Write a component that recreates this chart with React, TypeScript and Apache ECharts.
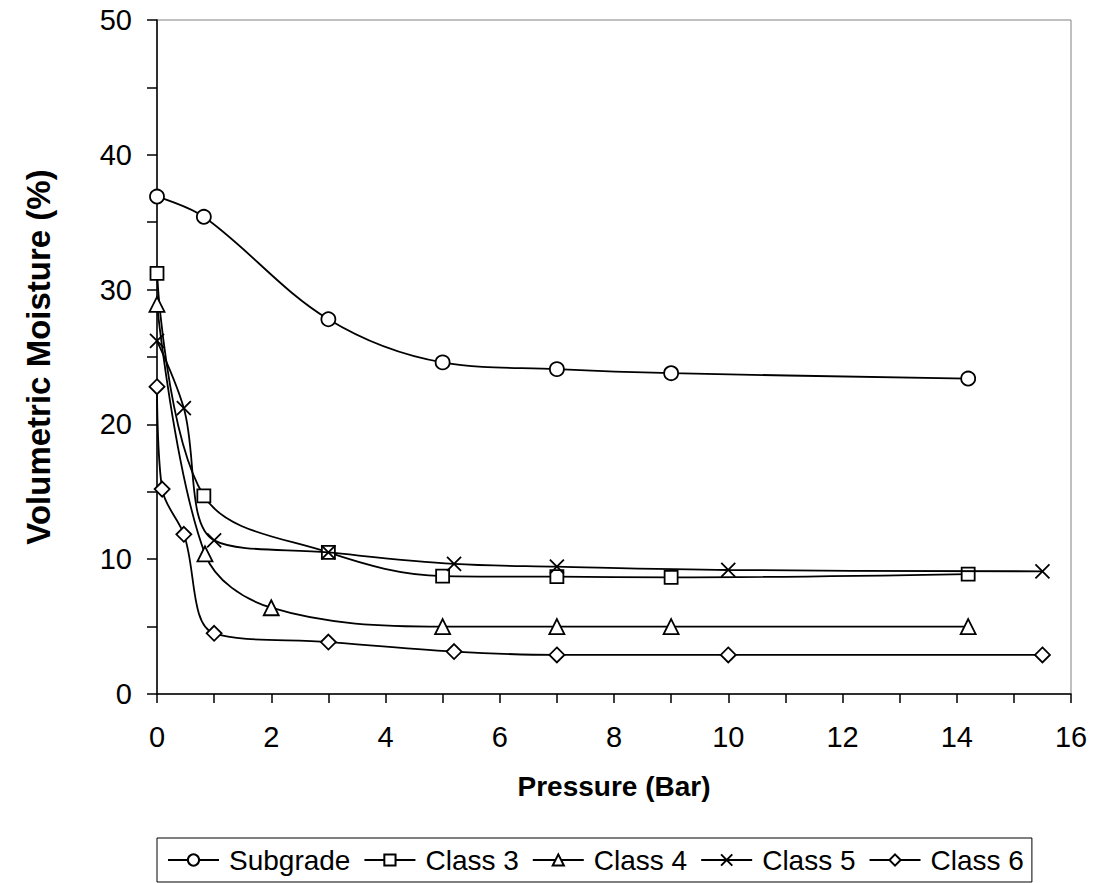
import React, { useEffect, useRef } from "react";
import * as echarts from "echarts";

const seriesNames = ["Subgrade", "Class 3", "Class 4", "Class 5", "Class 6"];

const subgradeX = [0, 0.82, 3, 5, 7, 9, 14.2];
const subgradeY = [36.9, 35.4, 27.8, 24.6, 24.1, 23.8, 23.4];

const class3X = [0, 0.82, 3, 5, 7, 9, 14.2];
const class3Y = [31.2, 14.7, 10.5, 8.75, 8.7, 8.65, 8.9];

const class4X = [0, 0.84, 2, 5, 7, 9, 14.2];
const class4Y = [28.9, 10.4, 6.4, 5.0, 5.0, 5.0, 5.0];

const class5X = [0, 0.47, 1, 3, 5.2, 7, 10, 15.5];
const class5Y = [26.2, 21.2, 11.4, 10.5, 9.65, 9.45, 9.2, 9.1];

const class6X = [0, 0.09, 0.47, 1, 3, 5.2, 7, 10, 15.5];
const class6Y = [22.8, 15.2, 11.85, 4.5, 3.85, 3.15, 2.9, 2.9, 2.9];

const xMin = 0, xMax = 16, xStep = 1, xLabelEvery = 2;
const yMin = 0, yMax = 50, yStep = 5, yLabelEvery = 10;

const FONT = "'Liberation Sans', Arial, sans-serif";

const zip = (xs: number[], ys: number[]) => xs.map((x, i) => [x, ys[i]]);

const symbols = [
  "circle",
  "rect",
  "triangle",
  "path://M0 0L10 10M10 0L0 10",
  "diamond",
];
const symbolSizes = [14, 13, 15, 14, 15];

export default function App() {
  const ref = useRef<HTMLDivElement>(null);
  useEffect(() => {
    if (!ref.current) return;
    const chart = echarts.init(ref.current, null, { renderer: "svg" });
    const allData = [
      zip(subgradeX, subgradeY),
      zip(class3X, class3Y),
      zip(class4X, class4Y),
      zip(class5X, class5Y),
      zip(class6X, class6Y),
    ];
    chart.setOption({
      animation: false,
      backgroundColor: "#ffffff",
      textStyle: { fontFamily: FONT, color: "#000" },
      grid: {
        left: 157,
        right: 23,
        top: 20,
        bottom: 189,
        show: true,
        borderColor: "#808080",
        borderWidth: 1,
        backgroundColor: "transparent",
      },
      xAxis: {
        type: "value",
        min: xMin,
        max: xMax,
        interval: xStep,
        name: "Pressure (Bar)",
        nameLocation: "middle",
        nameGap: 78,
        nameTextStyle: { fontFamily: FONT, fontSize: 28, fontWeight: "bold", color: "#000" },
        axisLine: { show: true, lineStyle: { color: "#000", width: 1.5 } },
        axisTick: { show: true, length: 9, lineStyle: { color: "#000", width: 1.5 } },
        axisLabel: {
          fontFamily: FONT,
          fontSize: 29,
          color: "#000",
          margin: 28,
          formatter: (v: number) => (v % xLabelEvery === 0 ? String(v) : ""),
        },
        splitLine: { show: false },
      },
      yAxis: {
        type: "value",
        min: yMin,
        max: yMax,
        interval: yStep,
        name: "Volumetric Moisture (%)",
        nameLocation: "middle",
        nameGap: 102,
        nameRotate: 90,
        nameTextStyle: { fontFamily: FONT, fontSize: 33, fontWeight: "bold", color: "#000" },
        axisLine: { show: true, lineStyle: { color: "#000", width: 1.5 } },
        axisTick: { show: true, length: 10, lineStyle: { color: "#000", width: 1.5 } },
        axisLabel: {
          fontFamily: FONT,
          fontSize: 29,
          color: "#000",
          margin: 25,
          formatter: (v: number) => (v % yLabelEvery === 0 ? String(v) : ""),
        },
        splitLine: { show: false },
      },
      legend: {
        left: 157,
        top: 838,
        orient: "horizontal",
        padding: [8, 8, 8, 10],
        itemGap: 13,
        itemWidth: 51,
        itemHeight: 14,
        borderColor: "#000",
        borderWidth: 1,
        backgroundColor: "#fff",
        textStyle: { fontFamily: FONT, fontSize: 28, color: "#000", padding: [0, 0, 0, 5] },
        data: seriesNames,
      },
      series: seriesNames.map((name, i) => ({
        name,
        type: "line",
        data: allData[i],
        smooth: 0.35,
        symbol: symbols[i],
        symbolSize: symbolSizes[i],
        symbolKeepAspect: true,
        showAllSymbol: true,
        clip: false,
        lineStyle: { color: "#000", width: 1.8 },
        itemStyle: { color: "#fff", borderColor: "#000", borderWidth: 1.8 },
        emphasis: { disabled: true },
        z: 2 + i,
      })),
    });
    return () => chart.dispose();
  }, []);
  return (
    <div
      ref={ref}
      style={{ position: "fixed", left: 0, top: 0, width: 1094, height: 883, background: "#fff" }}
    />
  );
}
